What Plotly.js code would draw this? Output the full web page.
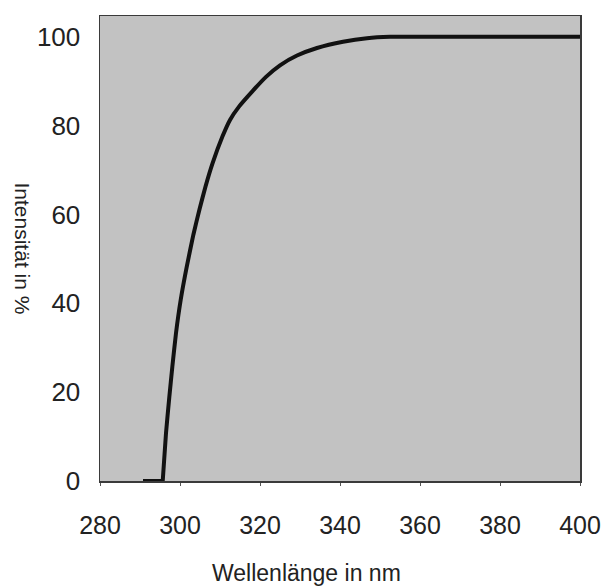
<!DOCTYPE html>
<html>
<head>
<meta charset="utf-8">
<script src="https://cdn.plot.ly/plotly-3.0.1.min.js"></script>
<style>
  html, body { margin: 0; padding: 0; background: #ffffff; }
  #chart { width: 605px; height: 586px; }
</style>
</head>
<body>
<div id="chart"></div>
<script>
// Transmission curve: wavelength (nm) vs. intensity (%)
const wavelength = [290.75, 295.68, 296.5, 297.33, 298.08, 299.0, 300.18, 301.68, 303.33, 304.88,
                    306.38, 308.13, 310.63, 312.5, 314.75, 318.25, 321.5, 325.0, 329.25, 334.25,
                    340.75, 346.75, 352.5, 400.0];
const intensity  = [0, 0, 10.8, 18.9, 25.7, 33.3, 40.8, 48.2, 55.4, 61.2,
                    66.3, 71.5, 77.6, 81.3, 84.3, 87.9, 91.0, 93.6, 95.8, 97.5,
                    98.9, 99.7, 100, 100];

const xTicks = [280, 300, 320, 340, 360, 380, 400];
const yTicks = [0, 20, 40, 60, 80, 100];

const xTitle = 'Wellenlänge in nm';
const yTitle = 'Intensität in %';

const fontFamily = 'Liberation Sans, Arial, sans-serif';
const lineColor = '#111111';

// Flat zero segment before the cut-off (straight), then the smooth rise.
const traces = [
  {
    x: wavelength.slice(0, 2),
    y: intensity.slice(0, 2),
    type: 'scatter',
    mode: 'lines',
    line: { color: lineColor, width: 4, shape: 'linear' },
    hoverinfo: 'skip'
  },
  {
    x: wavelength.slice(1),
    y: intensity.slice(1),
    type: 'scatter',
    mode: 'lines',
    line: { color: lineColor, width: 4, shape: 'spline', smoothing: 0.5 },
    hoverinfo: 'skip'
  }
];

const layout = {
  width: 605,
  height: 586,
  margin: { l: 100, r: 25, t: 16, b: 105 },
  paper_bgcolor: '#ffffff',
  plot_bgcolor: '#c2c2c2',
  showlegend: false,
  font: { family: fontFamily, color: '#222222' },
  xaxis: {
    range: [280, 400],
    tickvals: xTicks,
    ticktext: xTicks.map(String),
    ticks: 'outside',
    ticklen: 3,
    tickcolor: '#555555',
    ticklabelstandoff: 18,
    tickfont: { size: 25, color: '#222222', family: fontFamily },
    showgrid: false,
    zeroline: false,
    showline: true,
    linecolor: '#3a3a3a',
    linewidth: 1.5,
    mirror: true
  },
  yaxis: {
    range: [0, 104.7],
    tickvals: yTicks,
    ticktext: yTicks.map(String),
    ticks: '',
    ticklabelstandoff: 13,
    tickfont: { size: 26, color: '#222222', family: fontFamily },
    showgrid: false,
    zeroline: false,
    showline: true,
    linecolor: '#3a3a3a',
    linewidth: 1.5,
    mirror: true
  },
  annotations: [
    {
      text: xTitle,
      xref: 'paper', yref: 'paper',
      x: (306 - 100) / 480, y: 0, xanchor: 'center', yanchor: 'middle',
      yshift: -92,
      showarrow: false,
      font: { size: 23, color: '#222222', family: fontFamily }
    },
    {
      text: yTitle,
      xref: 'paper', yref: 'paper',
      x: 0, y: 0.5, xanchor: 'center', yanchor: 'middle',
      xshift: -78,
      textangle: 90,
      showarrow: false,
      font: { size: 21, color: '#222222', family: fontFamily }
    }
  ]
};

Plotly.newPlot('chart', traces, layout, { staticPlot: true, displayModeBar: false });
</script>
</body>
</html>
